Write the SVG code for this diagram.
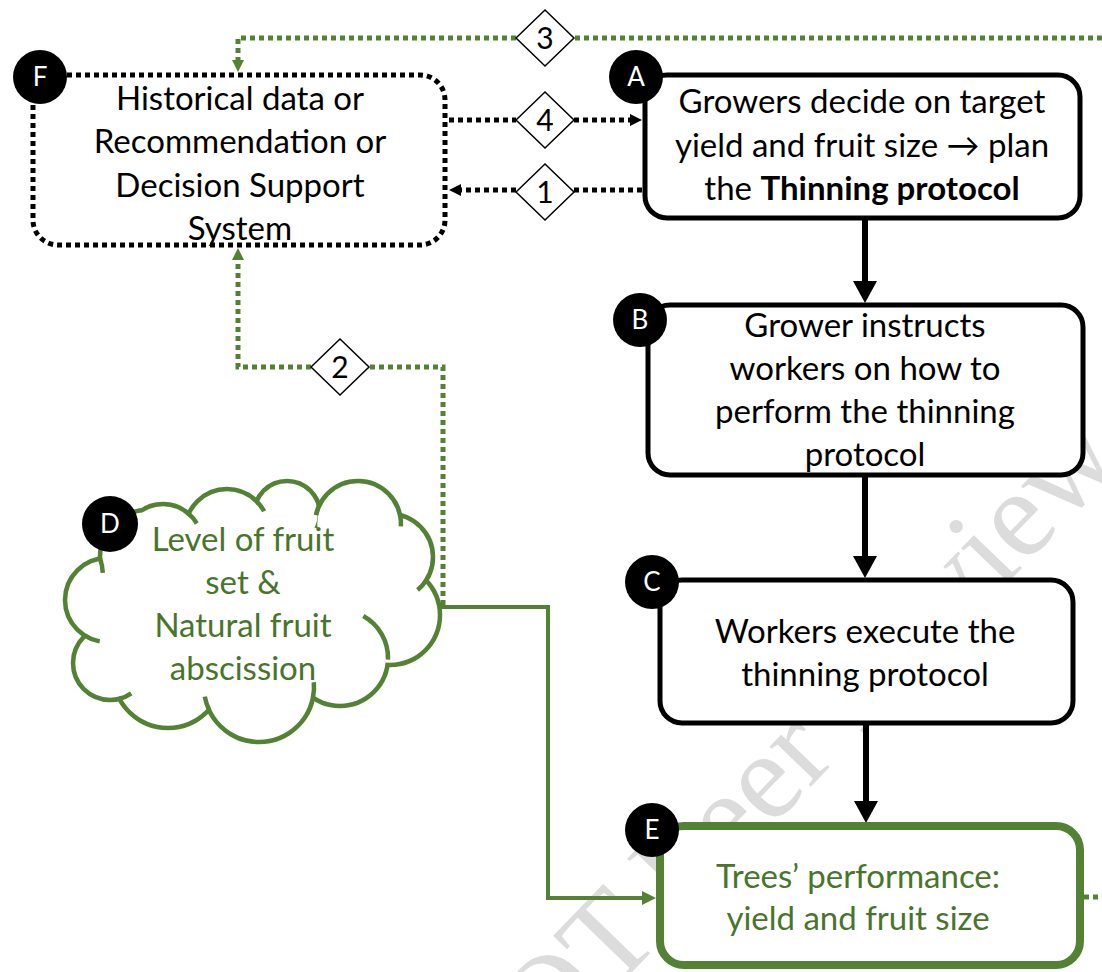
<svg xmlns="http://www.w3.org/2000/svg" width="1102" height="972" viewBox="0 0 1102 972">
<style>
.t{font-family:Lato,'Liberation Sans','DejaVu Sans',sans-serif;font-size:33px;text-anchor:middle;fill:#000}
.gt{fill:#48752a}
.box{fill:#fff;stroke:#000;stroke-width:5}
.gbox{fill:#fff;stroke:#548235;stroke-width:8}
.fbox{fill:#fff;stroke:#000;stroke-width:5;stroke-dasharray:5 4}
.lc{fill:#000}
.lt{font-family:Lato,'Liberation Sans',sans-serif;font-size:26px;text-anchor:middle;fill:#fff}
.dia{fill:#fff;stroke:#000;stroke-width:1.5}
.dn{font-family:Lato,'Liberation Sans',sans-serif;font-size:30px;text-anchor:middle;fill:#000}
.solid{stroke:#000;stroke-width:6;fill:none}
.dot{stroke:#000;stroke-width:5;stroke-dasharray:5 4;fill:none}
.gdot{stroke:#548235;stroke-width:5;stroke-dasharray:5 4;fill:none}
.gsolid{stroke:#548235;stroke-width:4;fill:none}
.hook{stroke:#548235;stroke-width:4.5;fill:none}
.wm{font-family:'Liberation Serif',serif;font-size:125px;fill:#dcdcdc}
</style>
<defs>
<marker id="big" viewBox="0 0 22 24" refX="8" refY="12" markerWidth="22" markerHeight="24" markerUnits="userSpaceOnUse" orient="auto"><path d="M0,0 L22,12 L0,24 Z" fill="#000"/></marker>
<marker id="sm" viewBox="0 0 12 12" refX="4" refY="6" markerWidth="12" markerHeight="12" markerUnits="userSpaceOnUse" orient="auto"><path d="M0,0 L12,6 L0,12 Z" fill="#000"/></marker>
<marker id="gsm" viewBox="0 0 12 12" refX="4" refY="6" markerWidth="12" markerHeight="12" markerUnits="userSpaceOnUse" orient="auto"><path d="M0,0 L12,6 L0,12 Z" fill="#548235"/></marker>
<marker id="gmd" viewBox="0 0 14 14" refX="4" refY="7" markerWidth="14" markerHeight="14" markerUnits="userSpaceOnUse" orient="auto"><path d="M0,0 L14,7 L0,14 Z" fill="#548235"/></marker>
<g id="lobes">
<circle cx="163" cy="543" r="36.75"/>
<circle cx="227" cy="531" r="39.75"/>
<circle cx="287" cy="514" r="30.75"/>
<circle cx="358" cy="524" r="40.75"/>
<circle cx="390" cy="557" r="40.75"/>
<circle cx="390" cy="615" r="47.75"/>
<circle cx="340" cy="658" r="45.75"/>
<circle cx="259" cy="687" r="52.75"/>
<circle cx="168" cy="673" r="52.75"/>
<circle cx="110" cy="663" r="34.75"/>
<circle cx="107" cy="600" r="39.75"/>
<circle cx="147" cy="557" r="44.75"/>
</g>
</defs>

<text class="wm" x="485" y="1124" transform="rotate(-46 485 1124)">NOT Peer Review</text>

<g id="connectors">
<path class="solid" d="M865,220 V289" marker-end="url(#big)"/>
<path class="solid" d="M865,477 V564" marker-end="url(#big)"/>
<path class="solid" d="M866,725 V809" marker-end="url(#big)"/>
<path class="dot" d="M449,120 H516 M574,120 H634" marker-end="url(#sm)"/>
<path class="dot" d="M642,190 H574 M516,190 H457" marker-end="url(#sm)"/>
<path class="gdot" d="M1102,38 H574 M516,38 H238 V64" marker-end="url(#gsm)"/>
<path class="gdot" d="M443,605 V367 H370 M311,367 H238 V256" marker-end="url(#gsm)"/>
<path class="gsolid" d="M438,607 H548 V898 H646" marker-end="url(#gmd)"/>
<path class="gdot" d="M1084,897 H1102"/>
<g id="d3"><polygon class="dia" points="516,38 545,10 574,38 545,66"/><text class="dn" x="545" y="49">3</text></g>
<g id="d4"><polygon class="dia" points="516,120 545,92 574,120 545,148"/><text class="dn" x="545" y="131">4</text></g>
<g id="d1"><polygon class="dia" points="516,192 545,164 574,192 545,220"/><text class="dn" x="545" y="203">1</text></g>
<g id="d2"><polygon class="dia" points="311,367 340,339 369,367 340,395"/><text class="dn" x="340" y="378">2</text></g>
</g>

<g id="nodeF">
<rect class="fbox" x="33" y="75" width="412" height="170" rx="25"/>
<circle class="lc" cx="40" cy="77" r="27"/>
<text class="lt" x="40" y="86">F</text>
<text class="t" x="240" y="110">Historical data or</text>
<text class="t" x="240" y="153">Recommendation or</text>
<text class="t" x="240" y="197">Decision Support</text>
<text class="t" x="240" y="240">System</text>
</g>

<g id="nodeA">
<rect class="box" x="645" y="75" width="435" height="143" rx="22"/>
<circle class="lc" cx="636" cy="77" r="27"/>
<text class="lt" x="636" y="86">A</text>
<text class="t" x="862" y="113">Growers decide on target</text>
<text class="t" x="862" y="157">yield and fruit size → plan</text>
<text class="t" x="862" y="200">the <tspan font-weight="bold">Thinning protocol</tspan></text>
</g>

<g id="nodeB">
<rect class="box" x="648" y="305" width="435" height="170" rx="22"/>
<circle class="lc" cx="640" cy="320" r="27"/>
<text class="lt" x="640" y="329">B</text>
<text class="t" x="865" y="337">Grower instructs</text>
<text class="t" x="865" y="380">workers on how to</text>
<text class="t" x="865" y="423">perform the thinning</text>
<text class="t" x="865" y="466">protocol</text>
</g>

<g id="nodeC">
<rect class="box" x="660" y="580" width="413" height="143" rx="22"/>
<circle class="lc" cx="652" cy="582" r="27"/>
<text class="lt" x="652" y="591">C</text>
<text class="t" x="865" y="643">Workers execute the</text>
<text class="t" x="865" y="686">thinning protocol</text>
</g>

<g id="nodeE">
<rect class="gbox" x="660" y="826" width="420" height="139" rx="24"/>
<circle class="lc" cx="652" cy="830" r="27"/>
<text class="lt" x="652" y="839">E</text>
<text class="t gt" x="858" y="888">Trees’ performance:</text>
<text class="t gt" x="858" y="930">yield and fruit size</text>
</g>

<g id="nodeD">
<use href="#lobes" fill="none" stroke="#548235" stroke-width="9"/>
<use href="#lobes" fill="#fff" stroke="none"/>
<ellipse cx="255" cy="605" rx="145" ry="85" fill="#fff"/>
<path class="hook" d="M188.6,513.6 A39,39 0 0 1 196.8,523.5"/>
<path class="hook" d="M256.7,501.3 A42,42 0 0 1 264.1,511.3"/>
<path class="hook" d="M319,505.8 A43,43 0 0 0 315.9,515.1"/>
<path class="hook" d="M400.1,515.1 A43,43 0 0 1 400.9,526.3"/>
<path class="hook" d="M426.1,580.4 A43,43 0 0 1 417.6,589.9"/>
<path class="hook" d="M363.3,616 A48,48 0 0 1 388,659.7"/>
<path class="hook" d="M313.8,682.2 A55,55 0 0 1 313,697.5"/>
<path class="hook" d="M209.2,710.2 A55,55 0 0 1 204.8,696.6"/>
<path class="hook" d="M119.6,698.7 A37,37 0 0 0 131.2,693.3"/>
<path class="hook" d="M84.7,635.6 A42,42 0 0 0 99.7,641.4"/>
<path class="hook" d="M100,558.6 A47,47 0 0 1 102.8,572.9"/>
<circle class="lc" cx="110" cy="524" r="28"/>
<text class="lt" x="110" y="533">D</text>
<text class="t gt" x="243" y="551">Level of fruit</text>
<text class="t gt" x="243" y="594">set &amp;</text>
<text class="t gt" x="243" y="637">Natural fruit</text>
<text class="t gt" x="243" y="680">abscission</text>
</g>
</svg>
